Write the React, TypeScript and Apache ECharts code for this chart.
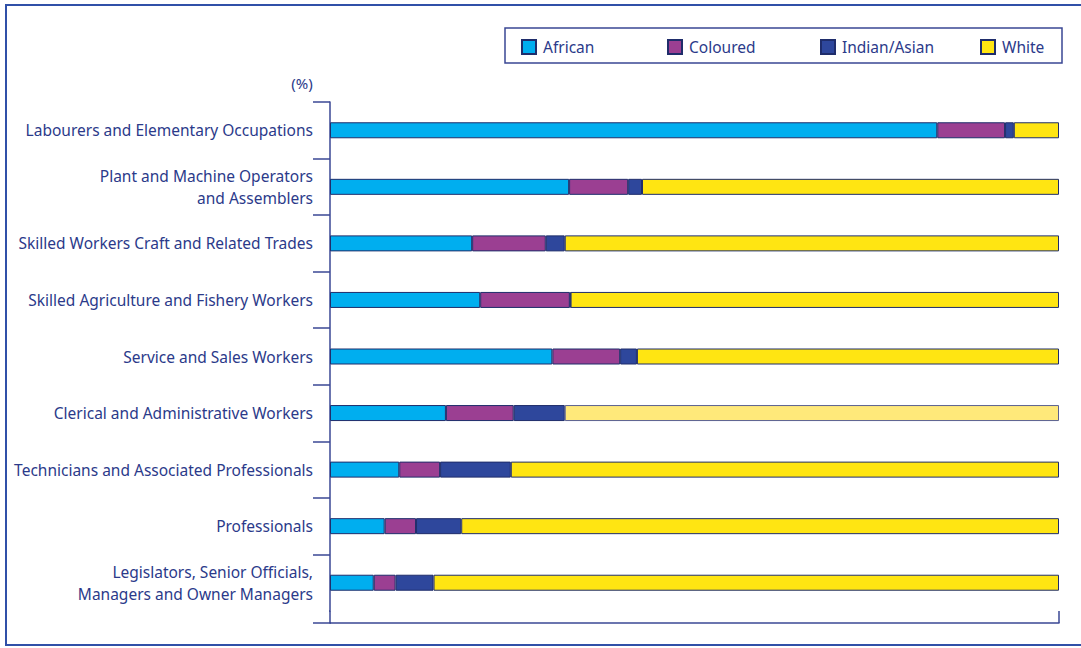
import React, { useEffect, useRef } from "react";
import * as echarts from "echarts";

const categories = [
  "Labourers and Elementary Occupations",
  "Plant and Machine Operators\nand Assemblers",
  "Skilled Workers Craft and Related Trades",
  "Skilled Agriculture and Fishery Workers",
  "Service and Sales Workers",
  "Clerical and Administrative Workers",
  "Technicians and Associated Professionals",
  "Professionals",
  "Legislators, Senior Officials,\nManagers and Owner Managers",
];
const african = [83.3, 32.8, 19.5, 20.6, 30.5, 15.9, 9.5, 7.5, 6.0];
const coloured = [9.3, 8.1, 10.1, 12.3, 9.3, 9.3, 5.6, 4.3, 3.0];
const indian = [1.2, 1.9, 2.6, 0.1, 2.3, 7.0, 9.7, 6.2, 5.2];
const white = [6.2, 57.2, 67.8, 67.0, 57.9, 67.8, 75.2, 82.0, 85.8];
const seriesNames = ["African", "Coloured", "Indian/Asian", "White"];
const unitLabel = "(%)";

const TEXT = "#2b3a8a";
const AXIS = "#3a4794";
const FONT = "'Noto Sans', sans-serif";
const colors = ["#00aeef", "#9b3f92", "#2e479c", "#ffe512"];

export default function App() {
  const ref = useRef<HTMLDivElement>(null);
  useEffect(() => {
    document.body.style.margin = "0";
    const chart = echarts.init(ref.current!, null, { renderer: "svg" });
    const values = [african, coloured, indian, white];
    const legendLefts = [521, 667, 820, 980];
    const option: any = {
      animation: false,
      textStyle: { fontFamily: FONT },
      grid: { left: 330, right: 22, top: 102, height: 509 },
      legend: seriesNames.map((n, i) => ({
        data: [n],
        left: legendLefts[i],
        top: 39,
        padding: 0,
        itemWidth: 14,
        itemHeight: 14,
        itemGap: 0,
        icon: "rect",
        textStyle: { color: TEXT, fontSize: 15.5, fontFamily: FONT, padding: [0, 0, 0, 2] },
      })),
      xAxis: {
        type: "value",
        min: 0,
        max: 100,
        interval: 100,
        offset: 12,
        splitLine: { show: false },
        axisLabel: { show: false },
        axisLine: { show: true, lineStyle: { color: AXIS, width: 1.5 } },
        axisTick: { show: true, inside: true, length: 12, lineStyle: { color: AXIS, width: 1.5 } },
      },
      yAxis: {
        type: "category",
        inverse: true,
        data: categories,
        axisLine: { show: true, lineStyle: { color: AXIS, width: 1.5 } },
        axisTick: { show: true, length: 17, lineStyle: { color: AXIS, width: 1.5 } },
        axisLabel: { margin: 17, color: TEXT, fontSize: 15.5, lineHeight: 22, fontFamily: FONT },
      },
      series: seriesNames.map((n, i) => ({
        name: n,
        type: "bar",
        stack: "total",
        barWidth: 16,
        itemStyle: { color: colors[i], borderColor: "#1f2d6b", borderWidth: 1 },
        data: values[i].map((v, j) =>
          i === 3 && j === 5
            ? { value: v, itemStyle: { color: "#ffe97a", borderColor: "#5a6090" } }
            : v
        ),
      })),
      graphic: [
        {
          type: "rect",
          shape: { x: 6, y: 5, width: 1100, height: 640 },
          style: { fill: "none", stroke: "#3050a8", lineWidth: 2 },
          silent: true,
        },
        {
          type: "rect",
          shape: { x: 505, y: 28, width: 557, height: 35 },
          style: { fill: "none", stroke: AXIS, lineWidth: 1.5 },
          silent: true,
        },
        {
          type: "line",
          shape: { x1: 310, y1: 611, x2: 329, y2: 611 },
          style: { stroke: "#ffffff", lineWidth: 3 },
          silent: true,
          z: 100,
        },
        {
          type: "line",
          shape: { x1: 313, y1: 623, x2: 331, y2: 623 },
          style: { stroke: AXIS, lineWidth: 1.5 },
          silent: true,
        },
        {
          type: "text",
          x: 302,
          y: 83,
          style: {
            text: unitLabel,
            fill: TEXT,
            fontSize: 15,
            fontFamily: FONT,
            align: "center",
            verticalAlign: "middle",
          },
        },
      ],
    };
    chart.setOption(option);
    return () => chart.dispose();
  }, []);
  return <div ref={ref} style={{ width: 1081, height: 648 }} />;
}
